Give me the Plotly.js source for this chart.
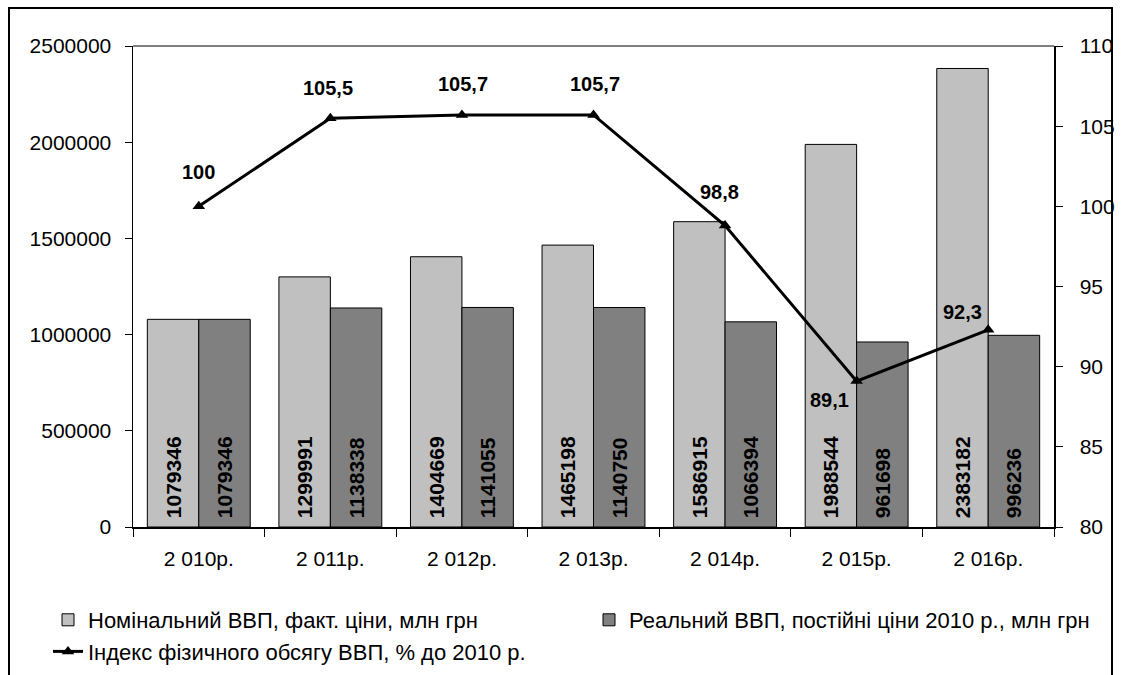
<!DOCTYPE html>
<html>
<head>
<meta charset="utf-8">
<script src="https://cdn.plot.ly/plotly-3.0.1.min.js"></script>
<style>html,body{margin:0;padding:0;background:#fff;}#chart{width:1122px;height:675px;}</style>
</head>
<body>
<div id="chart"></div>
<script>
var categories = ["2 010р.", "2 011р.", "2 012р.", "2 013р.", "2 014р.", "2 015р.", "2 016р."];
var nominalGDP = [1079346, 1299991, 1404669, 1465198, 1586915, 1988544, 2383182];
var realGDP = [1079346, 1138338, 1141055, 1140750, 1066394, 961698, 996236];
var volumeIndex = [100, 105.5, 105.7, 105.7, 98.8, 89.1, 92.3];
var seriesNames = [
  "Номінальний ВВП, факт. ціни, млн грн",
  "Реальний ВВП, постійні ціни 2010 р., млн грн",
  "Індекс фізичного обсягу ВВП, % до 2010 р."
];
// label offsets (px) for index labels
var labelShiftX = [0, -2, 1, 1, -6, -27, -26];
var labelShiftY = [34, 30, 31, 31, 34, -19, 18];

var FONT = "Arial, 'Liberation Sans', sans-serif";

var traces = [
  {
    type: "bar", x: categories, y: nominalGDP, name: seriesNames[0],
    marker: {color: "#c0c0c0", line: {color: "#000", width: 1}},
    text: nominalGDP.map(String), texttemplate: "\u00a0%{text}",
    textposition: "inside", insidetextanchor: "start",
    textangle: -90, textfont: {family: FONT, size: 21, color: "#000", weight: "bold"},
    constraintext: "none",
    legend: "legend", legendgroup: "a", hoverinfo: "y+name"
  },
  {
    type: "bar", x: categories, y: realGDP, name: seriesNames[1],
    marker: {color: "#808080", line: {color: "#000", width: 1}},
    text: realGDP.map(String), texttemplate: "\u00a0%{text}",
    textposition: "inside", insidetextanchor: "start",
    textangle: -90, textfont: {family: FONT, size: 21, color: "#000", weight: "bold"},
    constraintext: "none",
    legend: "legend2", legendgroup: "b", hoverinfo: "y+name"
  },
  {
    type: "scatter", mode: "lines+markers", x: categories, y: volumeIndex, yaxis: "y2",
    name: seriesNames[2],
    line: {color: "#000", width: 3},
    marker: {symbol: "triangle-up", size: 11, color: "#000"},
    legend: "legend", legendgroup: "c", hoverinfo: "y+name"
  }
];

var annotations = volumeIndex.map(function (v, i) {
  return {
    x: categories[i], y: v, xref: "x", yref: "y2",
    text: String(v).replace(".", ","), showarrow: false,
    xshift: labelShiftX[i], yshift: labelShiftY[i],
    font: {family: FONT, size: 20, color: "#000", weight: "bold"}
  };
});

var L = 133, R = 1054, T = 46, B = 527, W = 1122, H = 675;
function px(x) { return (x - L) / (R - L); }
function py(y) { return (B - y) / (B - T); }

var layout = {
  width: W, height: H,
  margin: {l: L, r: W - R, t: T, b: H - B, pad: 0, autoexpand: false},
  paper_bgcolor: "#fff", plot_bgcolor: "#fff",
  font: {family: FONT, size: 21, color: "#000"},
  barmode: "group", bargap: 0.218, bargroupgap: 0,
  showlegend: true,
  xaxis: {
    type: "category", showline: true, linecolor: "#000", linewidth: 1.5,
    ticks: "outside", ticklen: 8, tickcolor: "#000", tickson: "boundaries",
    showgrid: false, zeroline: false, tickfont: {family: FONT, size: 21, color: "#000"},
    ticklabelstandoff: 12, tickangle: 0, automargin: false
  },
  yaxis: {
    range: [0, 2500000], tickvals: [0, 500000, 1000000, 1500000, 2000000, 2500000],
    ticktext: ["0", "500000", "1000000", "1500000", "2000000", "2500000"],
    showline: true, linecolor: "#000", linewidth: 1.5, ticks: "outside", ticklen: 7,
    tickcolor: "#000", showgrid: false, zeroline: false, automargin: false,
    tickfont: {family: FONT, size: 21, color: "#000"}, ticklabelstandoff: 9
  },
  yaxis2: {
    overlaying: "y", side: "right", range: [80, 110], dtick: 5,
    showline: true, linecolor: "#000", linewidth: 1.5, ticks: "outside", ticklen: 7,
    tickcolor: "#000", showgrid: false, zeroline: false, automargin: false,
    tickfont: {family: FONT, size: 21, color: "#000"}, ticklabelstandoff: 13
  },
  legend: {
    xref: "container", yref: "container", x: 48 / W, y: 1 - 599 / H,
    xanchor: "left", yanchor: "top", orientation: "v",
    font: {family: FONT, size: 22, color: "#000"}, bgcolor: "rgba(0,0,0,0)",
    tracegroupgap: 0, traceorder: "grouped", itemwidth: 30
  },
  legend2: {
    xref: "container", yref: "container", x: 589 / W, y: 1 - 599 / H,
    xanchor: "left", yanchor: "top", orientation: "v",
    font: {family: FONT, size: 22, color: "#000"}, bgcolor: "rgba(0,0,0,0)",
    itemwidth: 30
  },
  annotations: annotations,
  shapes: [
    {type: "line", xref: "paper", yref: "paper", x0: 0, x1: 1, y0: 1, y1: 1,
     line: {color: "#000", width: 1}},
    {type: "rect", xref: "paper", yref: "paper", x0: px(9), x1: px(1112), y0: py(8), y1: py(690),
     line: {color: "#000", width: 2}, fillcolor: "rgba(0,0,0,0)", layer: "below"}
  ]
};

Plotly.newPlot("chart", traces, layout, {displayModeBar: false, staticPlot: true});
</script>
</body>
</html>
